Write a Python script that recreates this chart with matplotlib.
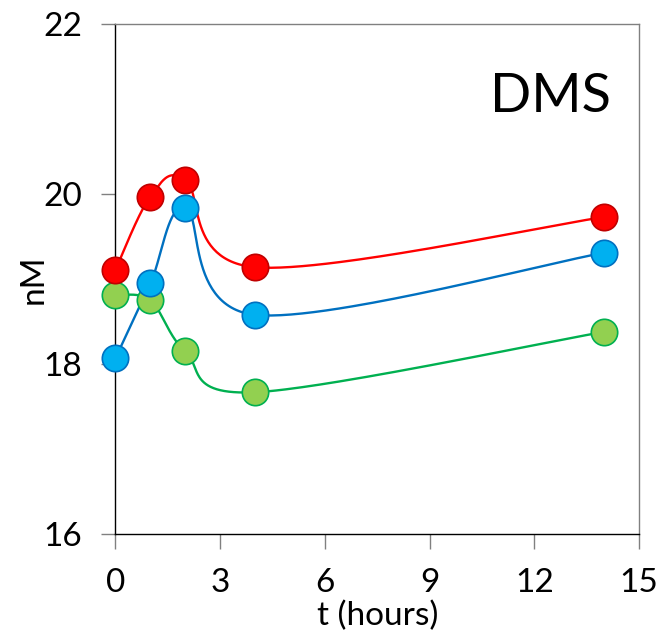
import numpy as np
import matplotlib.pyplot as plt

# time points (hours) and DMS concentrations (nM)
t_hours = [0, 1, 2, 4, 14]
dms_red = [19.11, 19.97, 20.17, 19.14, 19.73]
dms_blue = [18.07, 18.95, 19.84, 18.58, 19.31]
dms_green = [18.81, 18.75, 18.15, 17.67, 18.38]

x_ticks = [0, 3, 6, 9, 12, 15]
y_ticks = [16, 18, 20, 22]


def smooth_curve(x, y, n=60):
    # Bezier smoothing through the points, tangents from neighbouring points
    p = np.column_stack([x, y]).astype(float)
    pts = [p[0]] + list(p) + [p[-1]]
    out = []
    for i in range(1, len(pts) - 2):
        p0, p1, p2, p3 = pts[i - 1], pts[i], pts[i + 1], pts[i + 2]
        c1 = p1 + (p2 - p0) / 6.0
        c2 = p2 - (p3 - p1) / 6.0
        s = np.linspace(0, 1, n)[:, None]
        seg = ((1 - s) ** 3) * p1 + 3 * ((1 - s) ** 2) * s * c1 \
            + 3 * (1 - s) * s ** 2 * c2 + s ** 3 * p2
        out.append(seg)
    out = np.vstack(out)
    return out[:, 0], out[:, 1]


fig = plt.figure(figsize=(6.61, 6.34), dpi=100)
ax = fig.add_axes([0.1747, 0.1573, 0.7920, 0.8049])

series = [
    (dms_green, '#00B050', '#92D050', '#00B050'),
    (dms_red, '#FF0000', '#FF0000', '#C00000'),
    (dms_blue, '#0070C0', '#00B0F0', '#0070C0'),
]
for vals, lc, fc, ec in series:
    sx, sy = smooth_curve(t_hours, vals)
    ax.plot(sx, sy, color=lc, lw=1.7, zorder=3, clip_on=False)
    ax.plot(t_hours, vals, 'o', ms=19, mfc=fc, mec=ec, mew=1.2,
            zorder=4, clip_on=False)

ax.set_xlim(0, 15)
ax.set_ylim(16, 22)
ax.set_xticks(x_ticks)
ax.set_yticks(y_ticks)

font = 'Lato'
for lab in ax.get_xticklabels() + ax.get_yticklabels():
    lab.set_family(font)
    lab.set_fontsize(24)

ax.tick_params(axis='x', direction='out', length=11, width=1, color='#808080', pad=13)
ax.tick_params(axis='y', direction='out', length=10, width=1, color='#808080', pad=14)

ax.spines['left'].set_color('black')
ax.spines['bottom'].set_color('black')
ax.spines['top'].set_color('#808080')
ax.spines['right'].set_color('#808080')
for sp in ax.spines.values():
    sp.set_linewidth(1)

ax.set_xlabel('t (hours)', family=font, fontsize=24, labelpad=2)
ax.set_ylabel('nM', family=font, fontsize=24, labelpad=-4)

ax.text(14.2, 20.97, 'DMS', family=font, fontsize=39, ha='right', va='baseline')

fig.savefig('out.png', dpi=100)
